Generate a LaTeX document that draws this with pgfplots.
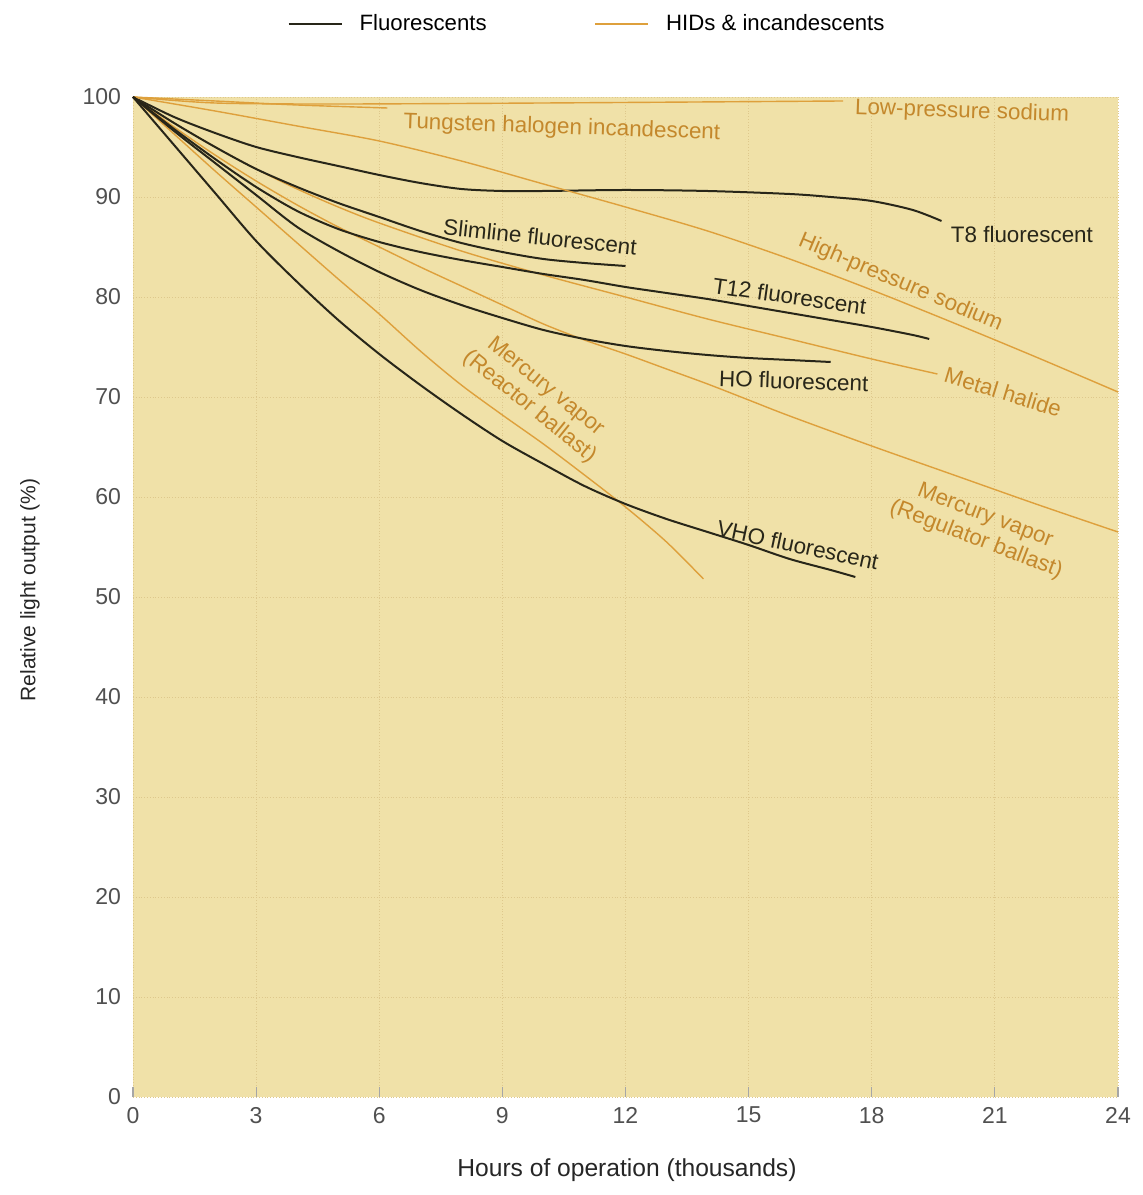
\documentclass[border=0pt]{standalone}
\usepackage{fontspec}
\setmainfont{Liberation Sans}
\usepackage{pgfplots}
\pgfplotsset{compat=1.18}
\definecolor{bgtan}{RGB}{240,225,168}
\definecolor{gridtan}{RGB}{222,200,140}
\definecolor{hidline}{RGB}{222,160,60}
\definecolor{hidtext}{RGB}{196,136,44}
\definecolor{fluo}{RGB}{40,38,25}
\definecolor{ticktext}{RGB}{80,80,80}
\begin{document}
\begin{tikzpicture}
\useasboundingbox (-66.5pt,-49pt) rectangle (505pt,548.5pt);
\begin{axis}[
  at={(0,0)}, anchor=south west,
  scale only axis, width=492.5pt, height=500pt,
  xmin=0, xmax=24, ymin=0, ymax=100,
  xtick={0,3,...,24}, ytick={0,10,...,100},
  axis background/.style={fill=bgtan},
  axis line style={draw=none},
  tick pos=left, tick align=inside,
  major tick length=5pt,
  xtick style={draw=gray!70, line width=0.6pt},
  ytick style={draw=none},
  grid=major,
  major grid style={draw=gridtan, line width=0.4pt, densely dotted},
  /pgf/number format/assume math mode=true,
  tick label style={font=\fontsize{11.5}{13}\selectfont, text=ticktext},
  xticklabel style={yshift=-1.5pt},
  yticklabel style={xshift=-2.5pt},
  xlabel={Hours of operation (thousands)},
  ylabel={Relative light output (\%)},
  xlabel style={font=\fontsize{12.3}{14}\selectfont, text=black!85, at={(axis description cs:0.5015,-0.073)}, anchor=center},
  ylabel style={font=\fontsize{10.5}{12}\selectfont, text=black!85, at={(axis description cs:-0.1046,0.507)}, anchor=center},
  legend style={at={(axis description cs:0.462,1.073)}, anchor=center,
    draw=none, fill=none, legend columns=2,
    font=\fontsize{11.1}{13}\selectfont,
    /tikz/every even column/.append style={column sep=52pt}},
  legend cell align=left,
  legend image code/.code={\draw[#1] (0pt,0pt) -- (26.5pt,0pt); \path (33pt,0pt);},
  clip=false
]
% ---------- Fluorescents ----------
\addplot[fluo, line width=1pt, smooth] coordinates {
(0,100)(1,98)(2,96.4)(3,95)(4,94)(5,93.1)(6,92.2)(7,91.4)(8,90.8)(9,90.6)(10,90.6)(12,90.7)(14,90.6)(16,90.3)(17,90)(18,89.6)(19,88.7)(19.7,87.6)};
\addlegendentry{Fluorescents}
% ---------- HIDs & incandescents ----------
\addplot[hidline, line width=0.7pt, smooth] coordinates {
(0,100)(2,99.4)(5,99.3)(10,99.4)(17.3,99.6)};
\addlegendentry{HIDs \& incandescents}
% Tungsten halogen
\addplot[hidline, line width=0.7pt, smooth, forget plot] coordinates {
(0,100)(2,99.6)(4,99.2)(6.2,98.9)};
% High-pressure sodium
\addplot[hidline, line width=0.7pt, smooth, forget plot] coordinates {
(0,100)(2,98.6)(4,97.1)(6,95.6)(8,93.6)(10,91.3)(12,89)(14,86.6)(16,83.8)(18,80.7)(20,77.4)(22,74)(24,70.5)};
% Metal halide
\addplot[hidline, line width=0.7pt, smooth, forget plot] coordinates {
(0,100)(1,97.4)(2,95)(3,92.8)(4,90.8)(5,89)(6,87.4)(8,84.6)(10,82.2)(12,80)(14,77.8)(16,75.8)(18,73.8)(19.6,72.3)};
% Mercury vapor (regulator)
\addplot[hidline, line width=0.7pt, smooth, forget plot] coordinates {
(0,100)(1,97)(2,94.2)(3,91.6)(4,89.2)(5,87)(6,85)(7,83)(8,81.1)(9,79.2)(10,77.3)(11,75.7)(12,74.3)(13,72.8)(14,71.3)(15,69.7)(16,68.1)(18,65.1)(20,62.2)(22,59.3)(24,56.5)};
% Mercury vapor (reactor)
\addplot[hidline, line width=0.7pt, smooth, forget plot] coordinates {
(0,100)(1,96.3)(2,92.6)(3,89)(4,85.4)(5,81.8)(6,78.3)(7,74.6)(8,71.2)(9,68.2)(10,65.3)(11,62.2)(12,59)(13,55.5)(13.9,51.8)};
% Slimline
\addplot[fluo, line width=1pt, smooth, forget plot] coordinates {
(0,100)(1,97.4)(2,95)(3,92.8)(4,91)(5,89.4)(6,88)(7,86.6)(8,85.4)(9,84.5)(10,83.8)(11,83.4)(12,83.1)};
% T12
\addplot[fluo, line width=1pt, smooth, forget plot] coordinates {
(0,100)(1,96.8)(2,93.8)(3,91)(4,88.6)(5,86.8)(6,85.5)(7,84.5)(8,83.7)(9,83)(10,82.3)(11,81.7)(12,81)(13,80.4)(14,79.8)(15,79.1)(16,78.4)(17,77.7)(18,77)(19,76.2)(19.4,75.8)};
% HO
\addplot[fluo, line width=1pt, smooth, forget plot] coordinates {
(0,100)(1,96.6)(2,93.4)(3,90.2)(4,87)(5,84.6)(6,82.5)(7,80.7)(8,79.2)(9,77.9)(10,76.7)(11,75.8)(12,75.1)(13,74.6)(14,74.2)(15,73.9)(16,73.7)(17,73.5)};
% VHO
\addplot[fluo, line width=1pt, smooth, forget plot] coordinates {
(0,100)(1,95.2)(2,90.4)(3,85.6)(4,81.5)(5,77.7)(6,74.3)(7,71.2)(8,68.3)(9,65.6)(10,63.3)(11,61.1)(12,59.3)(13,57.8)(14,56.5)(15,55.2)(16,53.8)(17,52.7)(17.6,52)};
% ---------- labels ----------
\begin{scope}[every node/.style={font=\fontsize{11.2}{12.8}\selectfont, inner sep=0pt}]
\node[text=hidtext, rotate=-2] at (axis cs:20.2,98.5) {Low-pressure sodium};
\node[text=hidtext, rotate=-2] at (axis cs:10.45,96.9) {Tungsten halogen incandescent};
\node[text=fluo] at (axis cs:21.66,86.2) {T8 fluorescent};
\node[text=fluo, rotate=-6] at (axis cs:9.92,86.0) {Slimline fluorescent};
\node[text=hidtext, rotate=-23] at (axis cs:18.7,81.4) {High-pressure sodium};
\node[text=fluo, rotate=-8] at (axis cs:16.0,80.1) {T12 fluorescent};
\node[text=fluo, rotate=-2] at (axis cs:16.1,71.6) {HO fluorescent};
\node[text=hidtext, rotate=-17] at (axis cs:21.2,70.5) {Metal halide};
\node[text=hidtext, rotate=-39, align=center] at (axis cs:9.85,70) {Mercury vapor\\(Reactor ballast)};
\node[text=hidtext, rotate=-21, align=center] at (axis cs:20.65,56.9) {Mercury vapor\\(Regulator ballast)};
\node[text=fluo, rotate=-12] at (axis cs:16.2,55.2) {VHO fluorescent};
\end{scope}
\end{axis}
\end{tikzpicture}
\end{document}
